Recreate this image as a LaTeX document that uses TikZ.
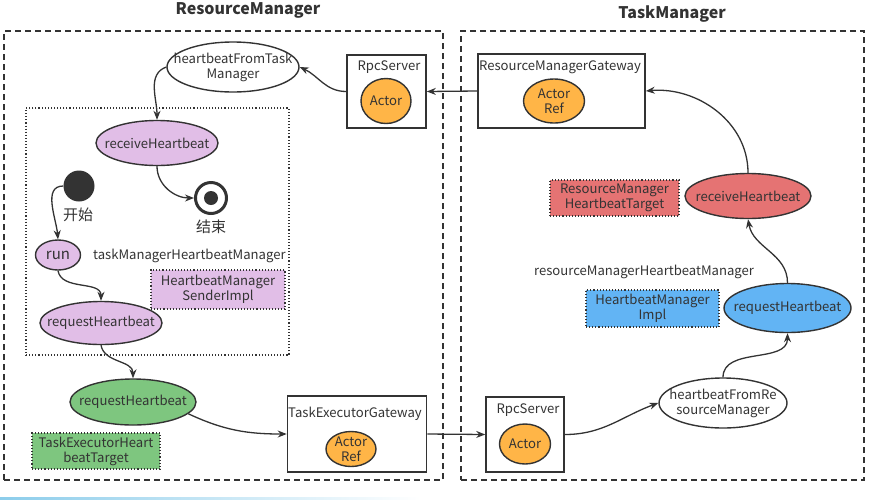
\documentclass[tikz,border=0pt]{standalone}
\usepackage{fontspec}
\setmainfont{Noto Sans CJK SC}
\usetikzlibrary{shapes.geometric,arrows.meta}
\definecolor{linec}{HTML}{333333}
\definecolor{textc}{HTML}{333333}
\definecolor{orangec}{HTML}{FFB547}
\definecolor{purplec}{HTML}{E1BEE7}
\definecolor{greenc}{HTML}{7EC67F}
\definecolor{bluec}{HTML}{62B4F4}
\definecolor{redc}{HTML}{E57373}
\definecolor{fadec}{HTML}{8CCDEB}
\begin{document}
\begin{tikzpicture}[x=1pt,y=-1pt,
  txt/.style={font=\fontsize{13.1}{15}\selectfont, text=textc, inner sep=0pt, align=center},
  ttl/.style={font=\fontsize{16}{18}\selectfont\bfseries, text=textc, inner sep=0pt},
  ellp/.style={ellipse, draw=linec, line width=1.4pt, inner sep=0pt},
  boxc/.style={rectangle, draw=linec, line width=1.6pt, fill=white, inner sep=0pt},
  tagbox/.style={rectangle, draw=linec, line width=1.1pt, dotted, inner sep=0pt},
  contain/.style={draw=linec, line width=1.3pt, dash pattern=on 6pt off 4pt},
  arr/.style={draw=linec, line width=1.3pt, -{Stealth[length=9pt,width=7pt]}},
  plain/.style={draw=linec, line width=1.3pt}
]
\useasboundingbox (0,0) rectangle (869,499);
\shade[left color=fadec, right color=white] (0,497) rectangle (420,499);

% titles
\node[ttl] (t1) at (248,10) {ResourceManager};
\node[ttl] (t2) at (672,14) {TaskManager};

% containers
\node[contain, minimum width=439pt, minimum height=449pt, inner sep=0pt] (rmbox) at (223.5,255.5) {};
\node[contain, minimum width=403pt, minimum height=449pt, inner sep=0pt] (tmbox) at (662.5,255.5) {};
\node[draw=linec, line width=1.1pt, dotted, minimum width=263pt, minimum height=247pt, inner sep=0pt] (inner) at (157.5,231.5) {};

% ResourceManager side
\node[ellp, fill=white, minimum width=132pt, minimum height=50pt] (hbtm) at (233,67) {};
\node[txt] (hbtmt) at (hbtm) {heartbeatFromTask\\Manager};

\node[boxc, minimum width=79pt, minimum height=73pt] (rpc1) at (386.5,91.5) {};
\node[txt] (rpc1l) at (389,67) {RpcServer};
\node[ellp, fill=orangec, minimum width=50pt, minimum height=45pt] (rpc1a) at (386,101) {};
\node[txt] (rpc1at) at (rpc1a) {Actor};

\node[ellp, fill=purplec, minimum width=122pt, minimum height=45pt] (recv1) at (157,143) {};
\node[txt] (recv1t) at (recv1) {receiveHeartbeat};

\node[circle, fill=linec, minimum size=31pt, inner sep=0pt] (start) at (79,186) {};
\node[txt, font=\fontsize{15}{17}\selectfont] (startt) at (78,215) {开始};

\node[circle, draw=linec, line width=3pt, fill=white, minimum size=31pt, inner sep=0pt] (end) at (211,198) {};
\node[circle, fill=linec, minimum size=14pt, inner sep=0pt] (endi) at (end) {};
\node[txt, font=\fontsize{15}{17}\selectfont] (endt) at (211,227) {结束};

\node[ellp, fill=purplec, minimum width=45pt, minimum height=30pt] (run) at (58,255) {};
\node[txt, font=\fontsize{15}{17}\selectfont] (runt) at (run) {run};

\node[txt, anchor=west] (tmhm) at (93,256) {taskManagerHeartbeatManager};
\node[tagbox, fill=purplec, minimum width=134pt, minimum height=39pt] (hmsi) at (218,289.5) {};
\node[txt] (hmsit) at (hmsi) {HeartbeatManager\\SenderImpl};

\node[ellp, fill=purplec, minimum width=122pt, minimum height=43pt] (req1) at (101,323) {};
\node[txt] (req1t) at (req1) {requestHeartbeat};

\node[ellp, fill=greenc, minimum width=126pt, minimum height=46pt] (req2) at (133,402) {};
\node[txt] (req2t) at (req2) {requestHeartbeat};

\node[tagbox, fill=greenc, minimum width=128pt, minimum height=36pt] (tehb) at (96,451) {};
\node[txt] (tehbt) at (tehb) {TaskExecutorHeart\\beatTarget};

\node[boxc, minimum width=139pt, minimum height=76pt] (teg) at (357,434) {};
\node[txt] (tegl) at (355,414) {TaskExecutorGateway};
\node[ellp, fill=orangec, minimum width=50pt, minimum height=35pt] (tega) at (351,449) {};
\node[txt] (tegat) at (tega) {Actor\\Ref};

% TaskManager side
\node[boxc, minimum width=167pt, minimum height=74pt] (rmgw) at (561.5,91) {};
\node[txt] (rmgwl) at (560,67) {ResourceManagerGateway};
\node[ellp, fill=orangec, minimum width=61pt, minimum height=44pt] (rmgwa) at (554,101) {};
\node[txt] (rmgwat) at (rmgwa) {Actor\\Ref};

\node[tagbox, fill=redc, minimum width=129pt, minimum height=36pt] (rmhbt) at (614.5,198) {};
\node[txt] (rmhbtt) at (rmhbt) {ResourceManager\\HeartbeatTarget};

\node[ellp, fill=redc, minimum width=126pt, minimum height=45pt] (recv2) at (748,196) {};
\node[txt] (recv2t) at (recv2) {receiveHeartbeat};

\node[txt] (rmhm) at (644,272) {resourceManagerHeartbeatManager};
\node[tagbox, fill=bluec, minimum width=133pt, minimum height=37pt] (hmi) at (652.5,308.5) {};
\node[txt] (hmit) at (hmi) {HeartbeatManager\\Impl};

\node[ellp, fill=bluec, minimum width=127pt, minimum height=49pt] (req3) at (787.5,308) {};
\node[txt] (req3t) at (req3) {requestHeartbeat};

\node[ellp, fill=white, minimum width=128pt, minimum height=50pt] (hbrm) at (723,403) {};
\node[txt] (hbrmt) at (hbrm) {heartbeatFromRe\\sourceManager};

\node[boxc, minimum width=78pt, minimum height=75pt] (rpc2) at (525,434.5) {};
\node[txt] (rpc2l) at (528,410) {RpcServer};
\node[ellp, fill=orangec, minimum width=51pt, minimum height=40pt] (rpc2a) at (525,444) {};
\node[txt] (rpc2at) at (rpc2a) {Actor};

% connectors
\draw[arr] (rmgw.west) -- (rpc1.east);
\draw[arr] (rpc1.west) to[out=180,in=-25] (hbtm.east);
\draw[arr] (hbtm.west) to[out=200,in=90] (recv1.north);
\draw[arr] (recv1.south) to[out=-90,in=180] (end.west);
\draw[arr] (start.west) to[out=180,in=95] (run.north);
\draw[arr] (run.south) to[out=-80,in=90] (req1.north);
\draw[arr] (req1.south) to[out=-80,in=90] (req2.north);
\draw[arr] (req2.-12) to[out=-25,in=180] (teg.west);
\draw[arr] (teg.east) -- (rpc2.west);
\draw[arr] (rpc2.east) to[out=0,in=200] (hbrm.west);
\draw[arr] (hbrm.north) to[out=90,in=-90] (req3.south);
\draw[arr] (req3.north) to[out=90,in=-80] (recv2.south);
\draw[arr] (recv2.north) to[out=90,in=5] (rmgw.east);
\end{tikzpicture}
\end{document}
